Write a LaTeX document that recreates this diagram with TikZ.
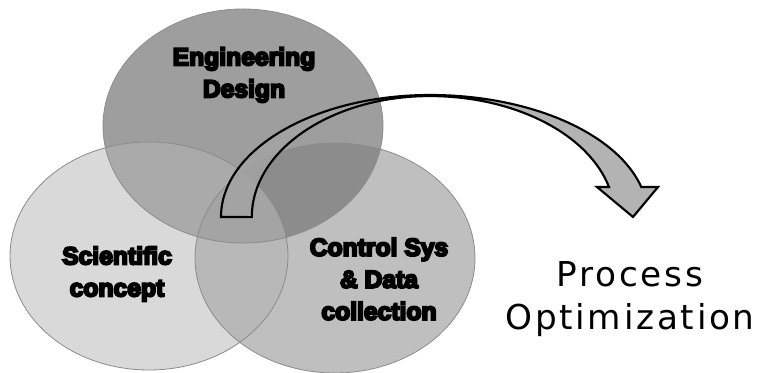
\documentclass[tikz,border=0pt]{standalone}
\usepackage{fontspec}
\setmainfont{Liberation Sans}
\newfontfamily\labelfont[FakeBold=8]{Liberation Sans Bold}
\newfontfamily\goalfont[LetterSpace=8]{DejaVu Sans}
\usepackage{tikz}

% grey levels of the single areas and of the overlaps
\definecolor{shSci}{HTML}{D9D9D9}
\definecolor{shCtl}{HTML}{BFBFBF}
\definecolor{shEng}{HTML}{9E9E9E}
\definecolor{shEngSci}{HTML}{AAAAAA}
\definecolor{shEngCtl}{HTML}{8C8C8C}
\definecolor{shSciCtl}{HTML}{B8B8B8}
\definecolor{shAll}{HTML}{A4A4A4}

% the three sets
\def\engset{(243,247) ellipse [x radius=140, y radius=117]}
\def\sciset{(149,117) ellipse [x radius=139, y radius=114]}
\def\ctlset{(335,115) ellipse [x radius=140, y radius=115]}

\begin{document}
\begin{tikzpicture}[
    x=0.75pt, y=0.75pt,
    rim/.style={draw=black!45, line width=0.6pt},
    lbl/.style={font=\labelfont\fontsize{18.5}{24}\selectfont, align=center},
    goal/.style={font=\goalfont\fontsize{25.7}{32}\selectfont, align=center},
    bendarrow/.style={draw=black, line width=1.6pt, fill=black!36, fill opacity=0.83,
                 line join=miter}
]
\useasboundingbox (0,0) rectangle (767,373);

% areas
\fill[shSci] \sciset;
\fill[shCtl] \ctlset;
\fill[shEng] \engset;
\begin{scope}
  \clip \sciset;
  \fill[shSciCtl] \ctlset;
  \fill[shEngSci] \engset;
\end{scope}
\begin{scope}
  \clip \ctlset;
  \fill[shEngCtl] \engset;
  \clip \sciset;
  \fill[shAll] \engset;
\end{scope}
\draw[rim] \sciset;
\draw[rim] \ctlset;
\draw[rim] \engset;

% curved block arrow
\draw[bendarrow] (221,156)
    arc[start angle=180, end angle=90, x radius=209, y radius=122]
    arc[start angle=90, end angle=14.2, x radius=218, y radius=122]
    -- (658,186) -- (633,156) -- (597,186) -- (609,186)
    arc[start angle=14.4, end angle=90, x radius=185, y radius=121]
    arc[start angle=90, end angle=180, x radius=178, y radius=121]
    -- cycle;

\node[lbl] (eng) at (244,298) {Engineering\\Design};
\node[lbl] (sci) at (117,99) {Scientific\\concept};
\node[lbl] (ctl) at (379,94) {Control Sys\\\& Data\\collection};
\node[goal] (opt) at (630,74) {Process\\Optimization};
\end{tikzpicture}
\end{document}
